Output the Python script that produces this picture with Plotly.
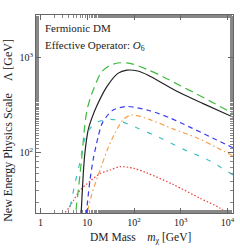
import plotly.graph_objects as go

# ---- data ----
black_m = [7.2, 7.6, 8.2, 8.9, 10.5, 12.5, 16, 26, 45, 70, 120, 200, 500, 1000, 3000, 13000]
black_L = [18, 30, 60, 100, 175, 230, 310, 490, 680, 735, 720, 650, 505, 420, 327, 236]

green_m = [5.4, 5.8, 6.3, 7.0, 7.8, 8.7, 9.7, 11.5, 13.4, 20, 30, 45, 82, 200, 414, 1000, 2180, 5000, 13000]
green_L = [18, 26, 37, 60, 100, 180, 270, 370, 455, 700, 820, 875, 868, 740, 628, 502, 413, 332, 258]

blue_m = [9.0, 9.7, 11.4, 13.4, 17, 21, 35, 70, 218, 585, 1560, 4000, 13000]
blue_L = [18, 25, 51, 85, 145, 205, 278, 305, 275, 231, 185, 148, 112]

orange_m = [9.5, 10.2, 12, 15, 18.7, 26, 39, 60, 90, 218, 676, 2180, 6000, 13000]
orange_L = [18, 24, 34, 48, 65, 103, 160, 225, 248, 222, 177, 143, 112, 92]

cyan_m = [3.7, 4.3, 5.5, 7, 8.5, 10.5, 14.6, 25, 42, 114, 357, 1330, 3560, 13000]
cyan_L = [20, 27, 48, 80, 130, 168, 203, 222, 220, 182, 143, 104, 85, 58]

red_m = [3.0, 3.3, 4, 5, 7, 10, 18.7, 30, 50, 100, 186, 689, 2560, 6840, 13000]
red_L = [20, 23, 26, 31, 40, 47, 60, 65, 71, 68, 61, 46, 33, 26, 20]

x_tickvals = [1, 10, 100, 1000, 10000]
x_ticktext = ["1", "10", "10<sup>2</sup>", "10<sup>3</sup>", "10<sup>4</sup>"]
y_tickvals = [100, 1000]
y_ticktext = ["10<sup>2</sup>", "10<sup>3</sup>"]

FONT = "Liberation Serif, Times New Roman, serif"

series = [
    (green_m, green_L, "#3cba3c", "8px,5px"),
    (black_m, black_L, "#222222", "solid"),
    (blue_m, blue_L, "#3a3af0", "5px,4px"),
    (orange_m, orange_L, "#f5a04a", "5px,3px,1.5px,3px"),
    (cyan_m, cyan_L, "#40c0c0", "5px,8px"),
    (red_m, red_L, "#ee3a3a", "1.5px,2px"),
]

fig = go.Figure()
for m, L, c, d in series:
    fig.add_trace(go.Scatter(x=m, y=L, mode="lines",
                             line=dict(color=c, width=1.2, dash=d, shape="spline", smoothing=0.8),
                             showlegend=False, hoverinfo="skip"))

axis_common = dict(
    type="log", showgrid=False, zeroline=False, automargin=False,
    showline=True, linecolor="#666666", linewidth=1, mirror="ticks",
    ticks="inside", ticklen=5, tickcolor="#666666", tickwidth=1,
    tickfont=dict(family=FONT, size=10, color="#222222"),
    minor=dict(ticks="inside", ticklen=3, tickcolor="#888888", tickwidth=1, showgrid=False),
)

fig.update_xaxes(range=[-0.097, 4.115], tickmode="array", tickvals=x_tickvals,
                 ticktext=x_ticktext, **axis_common)
fig.update_yaxes(range=[1.363, 3.447], tickmode="array", tickvals=y_tickvals,
                 ticktext=y_ticktext, **axis_common)

fig.add_annotation(text="Fermionic DM", xref="paper", yref="paper",
                   x=0.035, y=0.935, xanchor="left", yanchor="middle", showarrow=False,
                   font=dict(family=FONT, size=11, color="#222222"))
fig.add_annotation(text="Effective Operator: <i>O</i><sub>6</sub>", xref="paper", yref="paper",
                   x=0.035, y=0.845, xanchor="left", yanchor="middle", showarrow=False,
                   font=dict(family=FONT, size=11, color="#222222"))
fig.add_annotation(text="New Energy Physics Scale\u00a0\u00a0\u00a0\u00a0Λ [GeV]",
                   xref="paper", yref="paper", x=-0.142, y=0.415, textangle=-90,
                   xanchor="center", yanchor="middle", showarrow=False,
                   font=dict(family=FONT, size=12, color="#222222"))
fig.add_annotation(text="DM Mass\u00a0\u00a0\u00a0\u00a0<i>m</i><sub>χ</sub> [GeV]",
                   xref="paper", yref="paper", x=0.53, y=-0.125,
                   xanchor="center", yanchor="middle", showarrow=False,
                   font=dict(family=FONT, size=11.5, color="#222222"))

fig.update_layout(width=240, height=252,
                  margin=dict(l=36, r=7, t=15, b=39, autoexpand=False),
                  plot_bgcolor="white", paper_bgcolor="white")

fig.write_html("out.html", config={"displayModeBar": False, "staticPlot": True},
               post_script="document.body.style.margin='0px';")
